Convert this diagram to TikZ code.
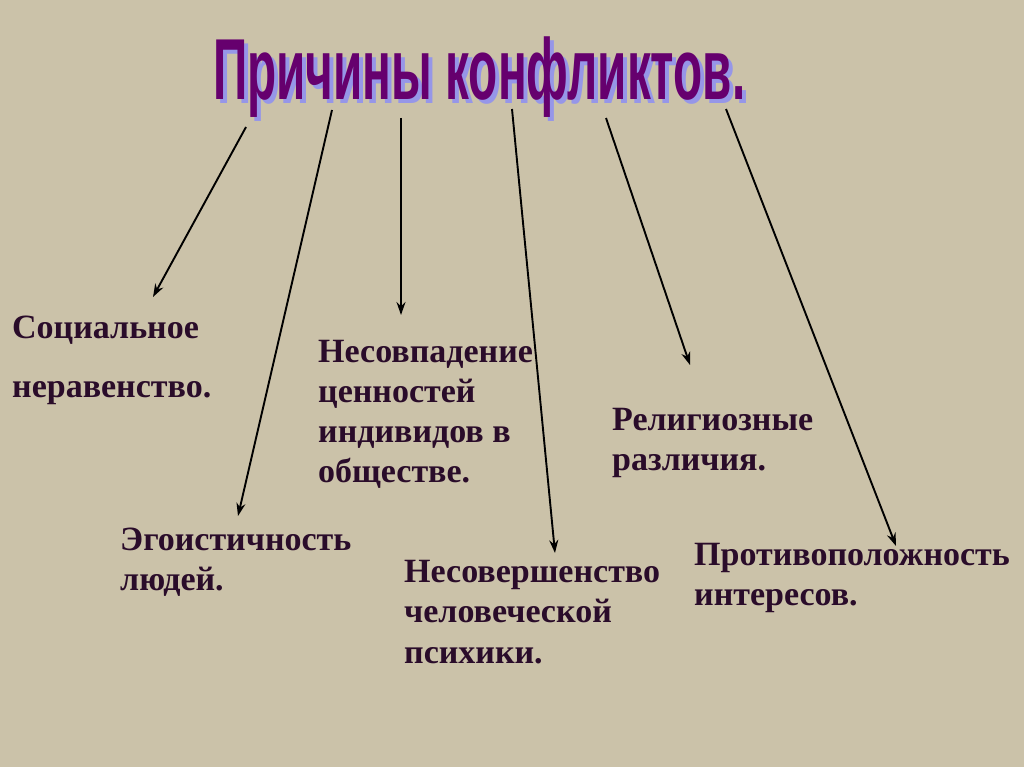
\documentclass[tikz,border=0pt]{standalone}
\usepackage{fontspec}
\setmainfont{Liberation Serif}
\newfontfamily\titlefont{Liberation Sans}
\usetikzlibrary{arrows.meta}
\definecolor{bg}{RGB}{203,194,169}
\definecolor{ink}{RGB}{42,12,42}
\definecolor{ttl}{RGB}{102,0,110}
\definecolor{shd}{RGB}{150,150,232}
\newcommand{\ttltext}{\resizebox{532pt}{\height}{\titlefont\bfseries\fontsize{86.6}{90}\selectfont Причины конфликтов.}}
\begin{document}
\begin{tikzpicture}[x=1pt,y=-1pt,
  lbl/.style={anchor=base west, inner sep=0pt, align=left, text=ink, font=\bfseries\fontsize{34}{40}\selectfont},
  ttlnode/.style={anchor=base west, inner sep=0pt},
  arr/.style={draw=black, line width=1.9pt, -{Stealth[length=13pt,width=9pt]}}]
\useasboundingbox (0,0) rectangle (1024,767);
\fill[bg] (0,0) rectangle (1024,767);
% title with shadow
\node[ttlnode, text=shd] (titleshadow) at (217,104) {\ttltext};
\node[ttlnode, text=ttl] (title) at (213,100) {\ttltext};
% labels (anchored at the baseline of the last line)
\node[lbl, font=\bfseries\fontsize{34}{59}\selectfont] (soc) at (12,397) {Социальное\\неравенство.};
\node[lbl] (nes) at (318,482) {Несовпадение\\ценностей\\индивидов в\\обществе.};
\node[lbl] (rel) at (612,470) {Религиозные\\различия.};
\node[lbl] (ego) at (120,590) {Эгоистичность\\людей.};
\node[lbl, font=\bfseries\fontsize{34}{40.5}\selectfont] (nsv) at (404,663) {Несовершенство\\человеческой\\психики.};
\node[lbl] (pro) at (694,605) {Противоположность\\интересов.};
% arrow coordinates
\coordinate (s1) at (246,127); \coordinate (e1) at (153,297);
\coordinate (s2) at (332,110); \coordinate (e2) at (238,516);
\coordinate (s3) at (401,118); \coordinate (e3) at (401,315);
\coordinate (s4) at (512,109); \coordinate (e4) at (555,553);
\coordinate (s5) at (606,118); \coordinate (e5) at (690,365);
\coordinate (s6) at (726,109); \coordinate (e6) at (896,546);
\draw[arr] (s1) -- (e1);
\draw[arr] (s2) -- (e2);
\draw[arr] (s3) -- (e3);
\draw[arr] (s4) -- (e4);
\draw[arr] (s5) -- (e5);
\draw[arr] (s6) -- (e6);
\end{tikzpicture}
\end{document}
